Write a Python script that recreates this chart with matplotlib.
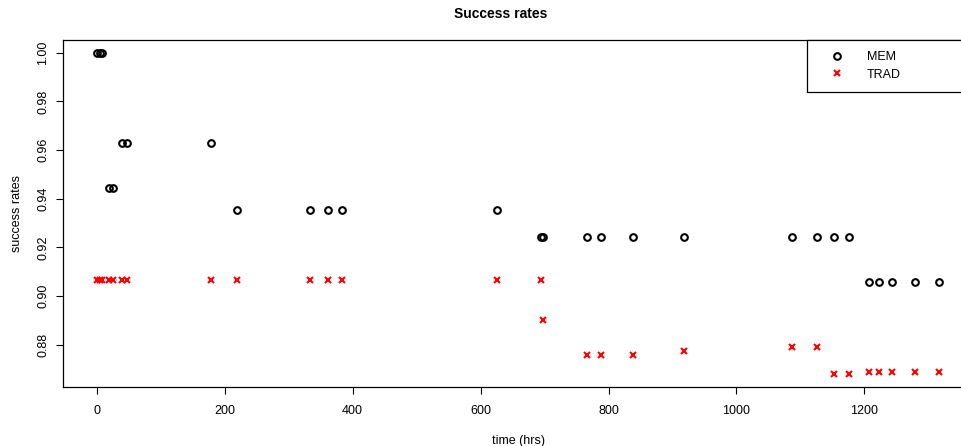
import matplotlib
matplotlib.use("Agg")
import matplotlib.pyplot as plt
import numpy as np

plt.rcParams['font.family'] = ['Liberation Sans', 'DejaVu Sans']

# DATA. hours of operation, same sampling points for both series.
hours = [1, 5, 9, 20, 25, 40, 48, 179, 220, 333, 362, 384, 625, 694,
         697, 766, 789, 838, 918, 1086, 1126, 1152, 1176,
         1207, 1222, 1243, 1279, 1317]
mem = [1.0, 1.0, 1.0, 0.9445, 0.9445, 0.963, 0.963, 0.963, 0.9352, 0.9352,
       0.9352, 0.9352, 0.9352, 0.9241, 0.9241, 0.9241, 0.9241, 0.9241,
       0.9241, 0.9241, 0.9241, 0.9241, 0.9241, 0.9056, 0.9056, 0.9056,
       0.9056, 0.9056]
trad = [0.9067, 0.9067, 0.9067, 0.9067, 0.9067, 0.9067, 0.9067, 0.9067,
        0.9067, 0.9067, 0.9067, 0.9067, 0.9067, 0.9067, 0.8901, 0.8759,
        0.8759, 0.8759, 0.8775, 0.8790, 0.8790, 0.8679, 0.8679, 0.8689,
        0.8689, 0.8689, 0.8689, 0.8689]
xticks = [0, 200, 400, 600, 800, 1000, 1200]
yticks = [0.88, 0.90, 0.92, 0.94, 0.96, 0.98, 1.00]

W, H = 961, 446
fig = plt.figure(figsize=(W / 100, H / 100), dpi=100)
# R-style plot region, right edge runs off the picture
left, right, top, bottom = 63, 973, 40, 387
ax = fig.add_axes([left / W, 1 - bottom / H, (right - left) / W, (bottom - top) / H])

ax.plot(hours, mem, ls="none", marker="o", ms=4.8, mfc="none", mec="black",
        mew=1.5, label="MEM")
ax.plot(hours, trad, ls="none", marker="x", ms=4.6, mec="red", mew=1.5,
        label="TRAD")

# R extends the range by 4% on each side
xlo, xhi = 0, max(hours)
ax.set_xlim(xlo - 0.04 * (xhi - xlo), xhi + 0.04 * (xhi - xlo))
yall = mem + trad
ylo, yhi = min(yall), max(yall)
ax.set_ylim(ylo - 0.04 * (yhi - ylo), yhi + 0.04 * (yhi - ylo))

ax.set_xticks(xticks)
ax.set_xticklabels([str(t) for t in xticks])
ax.set_yticks(yticks)
ax.set_yticklabels([f"{t:.2f}" for t in yticks], rotation=90, va="center")
ax.tick_params(direction="out", length=5, width=0.8, labelsize=9, colors="black")
ax.tick_params(axis="x", pad=8)
ax.tick_params(axis="y", pad=5)
for s in ax.spines.values():
    s.set_linewidth(0.9)
    s.set_color("black")

ax.set_xlabel("time (hrs)", fontsize=9, labelpad=13)
ax.set_ylabel("success rates", fontsize=9, labelpad=10)
ax.set_title("Success rates", fontsize=10, fontweight="bold", pad=16,
             x=(501 - left) / (right - left))

x0 = (807 - left) / (right - left)
leg = ax.legend(loc="upper left", bbox_to_anchor=(x0, 0, 1 - x0, 1), mode="expand",
                borderaxespad=0, fontsize=9, fancybox=False, framealpha=1,
                edgecolor="black", borderpad=0.9, labelspacing=0.45,
                handlelength=3.0, handletextpad=0.9)
leg.get_frame().set_linewidth(0.9)

plt.savefig("out.png", dpi=100)
